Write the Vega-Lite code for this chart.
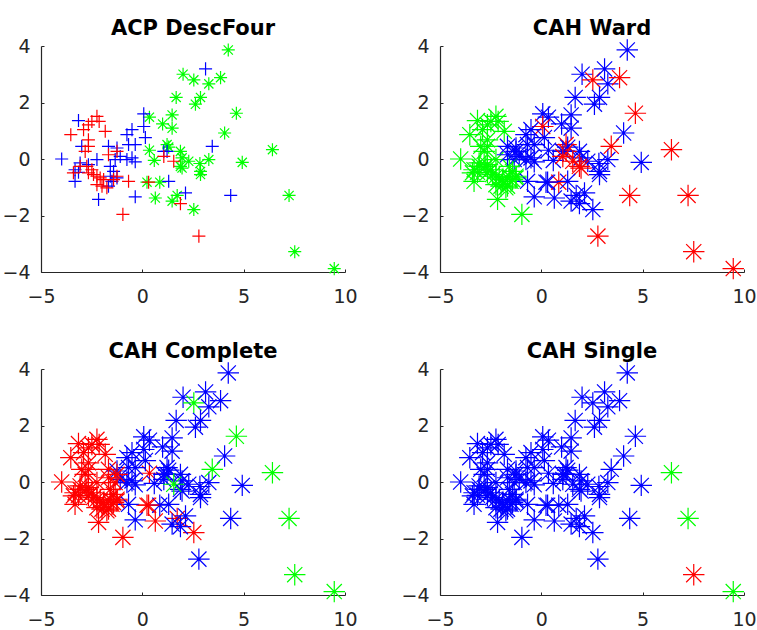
{
 "$schema": "https://vega.github.io/schema/vega-lite/v6.json",
 "background": "white",
 "padding": {"left": 1, "top": 17, "right": 0, "bottom": 0},
 "datasets": {"pts": [
  {"x":4.24,"y":3.86,"c":"g","w":"b","k":"b","s":"b"},
  {"x":2.01,"y":3.0,"c":"g","w":"b","k":"b","s":"b"},
  {"x":2.54,"y":2.8,"c":"g","w":"r","k":"g","s":"b"},
  {"x":3.28,"y":2.66,"c":"g","w":"b","k":"b","s":"b"},
  {"x":3.86,"y":2.88,"c":"g","w":"r","k":"b","s":"b"},
  {"x":1.67,"y":2.18,"c":"g","w":"b","k":"b","s":"b"},
  {"x":2.87,"y":2.18,"c":"g","w":"b","k":"b","s":"b"},
  {"x":2.62,"y":1.94,"c":"g","w":"b","k":"b","s":"b"},
  {"x":4.64,"y":1.62,"c":"g","w":"r","k":"g","s":"b"},
  {"x":0.35,"y":1.48,"c":"g","w":"b","k":"b","s":"b"},
  {"x":1.47,"y":1.56,"c":"g","w":"b","k":"b","s":"b"},
  {"x":1.0,"y":1.24,"c":"g","w":"b","k":"b","s":"b"},
  {"x":1.47,"y":1.09,"c":"g","w":"b","k":"b","s":"b"},
  {"x":4.06,"y":0.92,"c":"g","w":"b","k":"b","s":"b"},
  {"x":1.22,"y":0.51,"c":"g","w":"r","k":"b","s":"b"},
  {"x":0.35,"y":0.31,"c":"g","w":"b","k":"r","s":"b"},
  {"x":6.42,"y":0.33,"c":"g","w":"r","k":"g","s":"g"},
  {"x":0.59,"y":-0.05,"c":"g","w":"b","k":"b","s":"b"},
  {"x":1.88,"y":0.27,"c":"g","w":"b","k":"b","s":"b"},
  {"x":1.96,"y":0.04,"c":"g","w":"b","k":"b","s":"b"},
  {"x":2.29,"y":-0.08,"c":"g","w":"b","k":"b","s":"b"},
  {"x":3.28,"y":-0.02,"c":"g","w":"b","k":"b","s":"b"},
  {"x":2.84,"y":-0.16,"c":"g","w":"b","k":"b","s":"b"},
  {"x":4.93,"y":-0.12,"c":"g","w":"b","k":"b","s":"b"},
  {"x":1.88,"y":-0.26,"c":"g","w":"r","k":"b","s":"b"},
  {"x":1.96,"y":-0.32,"c":"g","w":"r","k":"b","s":"b"},
  {"x":2.87,"y":-0.44,"c":"g","w":"b","k":"b","s":"b"},
  {"x":2.87,"y":-0.55,"c":"g","w":"b","k":"b","s":"b"},
  {"x":0.23,"y":-0.82,"c":"g","w":"b","k":"r","s":"b"},
  {"x":0.86,"y":-0.82,"c":"g","w":"r","k":"b","s":"b"},
  {"x":0.64,"y":-1.38,"c":"g","w":"b","k":"r","s":"b"},
  {"x":1.72,"y":-1.29,"c":"g","w":"b","k":"r","s":"b"},
  {"x":1.47,"y":-1.49,"c":"g","w":"b","k":"b","s":"b"},
  {"x":2.54,"y":-1.79,"c":"g","w":"b","k":"r","s":"b"},
  {"x":7.24,"y":-1.29,"c":"g","w":"r","k":"g","s":"g"},
  {"x":7.52,"y":-3.28,"c":"g","w":"r","k":"g","s":"r"},
  {"x":9.47,"y":-3.88,"c":"g","w":"r","k":"g","s":"g"},
  {"x":1.3,"y":0.42,"c":"g","w":"b","k":"b","s":"b"},
  {"x":3.12,"y":3.19,"c":"b","w":"b","k":"b","s":"b"},
  {"x":0.07,"y":1.6,"c":"b","w":"b","k":"b","s":"b"},
  {"x":-3.15,"y":1.36,"c":"b","w":"g","k":"r","s":"b"},
  {"x":0.07,"y":1.15,"c":"b","w":"r","k":"b","s":"b"},
  {"x":-0.51,"y":1.04,"c":"b","w":"b","k":"b","s":"b"},
  {"x":-0.76,"y":0.86,"c":"b","w":"b","k":"b","s":"b"},
  {"x":0.15,"y":0.76,"c":"b","w":"b","k":"b","s":"b"},
  {"x":-2.99,"y":0.45,"c":"b","w":"g","k":"r","s":"b"},
  {"x":-0.68,"y":0.51,"c":"b","w":"b","k":"b","s":"b"},
  {"x":-0.35,"y":0.51,"c":"b","w":"b","k":"b","s":"b"},
  {"x":-1.67,"y":0.45,"c":"b","w":"b","k":"r","s":"b"},
  {"x":-1.25,"y":0.39,"c":"b","w":"b","k":"b","s":"b"},
  {"x":3.45,"y":0.45,"c":"b","w":"r","k":"g","s":"b"},
  {"x":1.22,"y":0.27,"c":"b","w":"r","k":"b","s":"b"},
  {"x":-3.98,"y":0.0,"c":"b","w":"g","k":"r","s":"b"},
  {"x":-2.24,"y":-0.02,"c":"b","w":"g","k":"r","s":"b"},
  {"x":-1.09,"y":0.09,"c":"b","w":"b","k":"b","s":"b"},
  {"x":-1.34,"y":-0.02,"c":"b","w":"b","k":"r","s":"b"},
  {"x":-0.76,"y":-0.02,"c":"b","w":"b","k":"b","s":"b"},
  {"x":-0.51,"y":0.04,"c":"b","w":"b","k":"b","s":"b"},
  {"x":-0.35,"y":-0.1,"c":"b","w":"b","k":"b","s":"b"},
  {"x":-3.07,"y":-0.14,"c":"b","w":"g","k":"r","s":"b"},
  {"x":-3.32,"y":-0.38,"c":"b","w":"g","k":"r","s":"b"},
  {"x":-3.15,"y":-0.47,"c":"b","w":"g","k":"r","s":"b"},
  {"x":-1.58,"y":-0.26,"c":"b","w":"g","k":"r","s":"b"},
  {"x":-1.42,"y":-0.44,"c":"b","w":"g","k":"r","s":"b"},
  {"x":-1.58,"y":-0.61,"c":"b","w":"g","k":"r","s":"b"},
  {"x":-1.25,"y":-0.67,"c":"b","w":"g","k":"r","s":"b"},
  {"x":-1.5,"y":-0.79,"c":"b","w":"g","k":"r","s":"b"},
  {"x":-1.67,"y":-0.96,"c":"b","w":"g","k":"r","s":"b"},
  {"x":-3.32,"y":-0.79,"c":"b","w":"g","k":"r","s":"b"},
  {"x":1.3,"y":-0.79,"c":"b","w":"b","k":"b","s":"b"},
  {"x":-0.35,"y":-1.34,"c":"b","w":"b","k":"b","s":"b"},
  {"x":2.13,"y":-1.2,"c":"b","w":"b","k":"b","s":"b"},
  {"x":-2.16,"y":-1.43,"c":"b","w":"g","k":"r","s":"b"},
  {"x":4.36,"y":-1.29,"c":"b","w":"r","k":"b","s":"b"},
  {"x":1.06,"y":0.27,"c":"b","w":"b","k":"b","s":"b"},
  {"x":-2.66,"y":-0.2,"c":"b","w":"g","k":"r","s":"b"},
  {"x":-2.24,"y":1.51,"c":"r","w":"g","k":"r","s":"b"},
  {"x":-2.49,"y":1.33,"c":"r","w":"g","k":"r","s":"b"},
  {"x":-2.13,"y":1.33,"c":"r","w":"g","k":"r","s":"b"},
  {"x":-2.66,"y":1.21,"c":"r","w":"g","k":"r","s":"b"},
  {"x":-2.9,"y":1.04,"c":"r","w":"g","k":"r","s":"b"},
  {"x":-1.83,"y":0.98,"c":"r","w":"g","k":"r","s":"b"},
  {"x":-3.53,"y":0.86,"c":"r","w":"g","k":"r","s":"b"},
  {"x":-2.66,"y":0.68,"c":"r","w":"g","k":"r","s":"b"},
  {"x":-2.66,"y":0.45,"c":"r","w":"g","k":"r","s":"b"},
  {"x":-2.82,"y":0.27,"c":"r","w":"g","k":"r","s":"b"},
  {"x":-1.67,"y":0.15,"c":"r","w":"b","k":"r","s":"b"},
  {"x":-1.25,"y":0.27,"c":"r","w":"b","k":"r","s":"b"},
  {"x":1.06,"y":0.09,"c":"r","w":"r","k":"b","s":"b"},
  {"x":1.55,"y":-0.08,"c":"r","w":"r","k":"g","s":"b"},
  {"x":-3.07,"y":-0.26,"c":"r","w":"g","k":"r","s":"b"},
  {"x":-2.74,"y":-0.26,"c":"r","w":"g","k":"r","s":"b"},
  {"x":-2.49,"y":-0.38,"c":"r","w":"g","k":"r","s":"b"},
  {"x":-2.66,"y":-0.49,"c":"r","w":"g","k":"r","s":"b"},
  {"x":-2.41,"y":-0.55,"c":"r","w":"g","k":"r","s":"b"},
  {"x":-2.24,"y":-0.61,"c":"r","w":"g","k":"r","s":"b"},
  {"x":-2.08,"y":-0.67,"c":"r","w":"g","k":"r","s":"b"},
  {"x":-1.91,"y":-0.73,"c":"r","w":"g","k":"r","s":"b"},
  {"x":-2.24,"y":-0.91,"c":"r","w":"g","k":"r","s":"b"},
  {"x":-1.99,"y":-0.96,"c":"r","w":"g","k":"r","s":"b"},
  {"x":-1.75,"y":-1.02,"c":"r","w":"g","k":"r","s":"b"},
  {"x":-1.42,"y":-0.73,"c":"r","w":"g","k":"r","s":"b"},
  {"x":-0.68,"y":-0.79,"c":"r","w":"b","k":"b","s":"b"},
  {"x":0.31,"y":-0.82,"c":"r","w":"b","k":"r","s":"b"},
  {"x":1.88,"y":-1.58,"c":"r","w":"b","k":"b","s":"b"},
  {"x":-0.96,"y":-1.96,"c":"r","w":"g","k":"r","s":"b"},
  {"x":2.79,"y":-2.73,"c":"r","w":"r","k":"b","s":"b"},
  {"x":-3.4,"y":-0.49,"c":"r","w":"g","k":"r","s":"b"},
  {"x":-1.25,"y":-0.61,"c":"r","w":"g","k":"r","s":"b"}
 ]},
 "config": {
  "view": {"stroke": null},
  "font": "DejaVu Sans",
  "axis": {
   "domainColor": "#262626", "domainWidth": 1.2,
   "tickColor": "#262626", "tickSize": -3, "tickWidth": 1,
   "grid": false, "labelFont": "DejaVu Sans", "labelFontSize": 19,
   "labelColor": "#262626", "labelPadding": 14, "labelFlush": false, "labelOverlap": false, "title": null
  },
  "axisX": {"labelPadding": 18},
  "title": {"font": "DejaVu Sans", "fontSize": 21, "fontWeight": "bold", "color": "#000000", "anchor": "middle", "offset": -2}
 },
 "bounds": "flush",
 "columns": 2,
 "spacing": {"row": 97, "column": 95},
 "concat": [
  {
   "title": "ACP DescFour", "width": 304, "height": 226,
   "data": {"name": "pts"},
   "mark": {"type": "point", "filled": false, "strokeWidth": 1.2, "opacity": 1},
   "encoding": {
    "x": {"field": "x", "type": "quantitative", "scale": {"domain": [-5, 10], "nice": false, "zero": false}, "axis": {"values": [-5, 0, 5, 10]}},
    "y": {"field": "y", "type": "quantitative", "scale": {"domain": [-4, 4], "nice": false, "zero": false}, "axis": {"values": [-4, -2, 0, 2, 4]}},
    "color": {"field": "c", "type": "nominal", "scale": {"domain": ["r", "b", "g"], "range": ["#ff0000", "#0000ff", "#00ff00"]}, "legend": null},
    "shape": {"field": "c", "type": "nominal", "scale": {"domain": ["r", "b", "g"], "range": ["M-1,0L1,0M0,-1L0,1", "M-1,0L1,0M0,-1L0,1", "M-1,0L1,0M0,-1L0,1M-0.707,-0.707L0.707,0.707M-0.707,0.707L0.707,-0.707"]}, "legend": null},
    "size": {"value": 170}
   }
  },
  {
   "title": "CAH Ward", "width": 304, "height": 226,
   "data": {"name": "pts"},
   "mark": {"type": "point", "filled": false, "strokeWidth": 1.2, "opacity": 1, "shape": "M-1,0L1,0M0,-1L0,1M-0.707,-0.707L0.707,0.707M-0.707,0.707L0.707,-0.707", "size": 460},
   "encoding": {
    "x": {"field": "x", "type": "quantitative", "scale": {"domain": [-5, 10], "nice": false, "zero": false}, "axis": {"values": [-5, 0, 5, 10]}},
    "y": {"field": "y", "type": "quantitative", "scale": {"domain": [-4, 4], "nice": false, "zero": false}, "axis": {"values": [-4, -2, 0, 2, 4]}},
    "color": {"field": "w", "type": "nominal", "scale": {"domain": ["r", "b", "g"], "range": ["#ff0000", "#0000ff", "#00ff00"]}, "legend": null}
   }
  },
  {
   "title": "CAH Complete", "width": 304, "height": 226,
   "data": {"name": "pts"},
   "mark": {"type": "point", "filled": false, "strokeWidth": 1.2, "opacity": 1, "shape": "M-1,0L1,0M0,-1L0,1M-0.707,-0.707L0.707,0.707M-0.707,0.707L0.707,-0.707", "size": 460},
   "encoding": {
    "x": {"field": "x", "type": "quantitative", "scale": {"domain": [-5, 10], "nice": false, "zero": false}, "axis": {"values": [-5, 0, 5, 10]}},
    "y": {"field": "y", "type": "quantitative", "scale": {"domain": [-4, 4], "nice": false, "zero": false}, "axis": {"values": [-4, -2, 0, 2, 4]}},
    "color": {"field": "k", "type": "nominal", "scale": {"domain": ["r", "b", "g"], "range": ["#ff0000", "#0000ff", "#00ff00"]}, "legend": null}
   }
  },
  {
   "title": "CAH Single", "width": 304, "height": 226,
   "data": {"name": "pts"},
   "mark": {"type": "point", "filled": false, "strokeWidth": 1.2, "opacity": 1, "shape": "M-1,0L1,0M0,-1L0,1M-0.707,-0.707L0.707,0.707M-0.707,0.707L0.707,-0.707", "size": 460},
   "encoding": {
    "x": {"field": "x", "type": "quantitative", "scale": {"domain": [-5, 10], "nice": false, "zero": false}, "axis": {"values": [-5, 0, 5, 10]}},
    "y": {"field": "y", "type": "quantitative", "scale": {"domain": [-4, 4], "nice": false, "zero": false}, "axis": {"values": [-4, -2, 0, 2, 4]}},
    "color": {"field": "s", "type": "nominal", "scale": {"domain": ["r", "b", "g"], "range": ["#ff0000", "#0000ff", "#00ff00"]}, "legend": null}
   }
  }
 ]
}
